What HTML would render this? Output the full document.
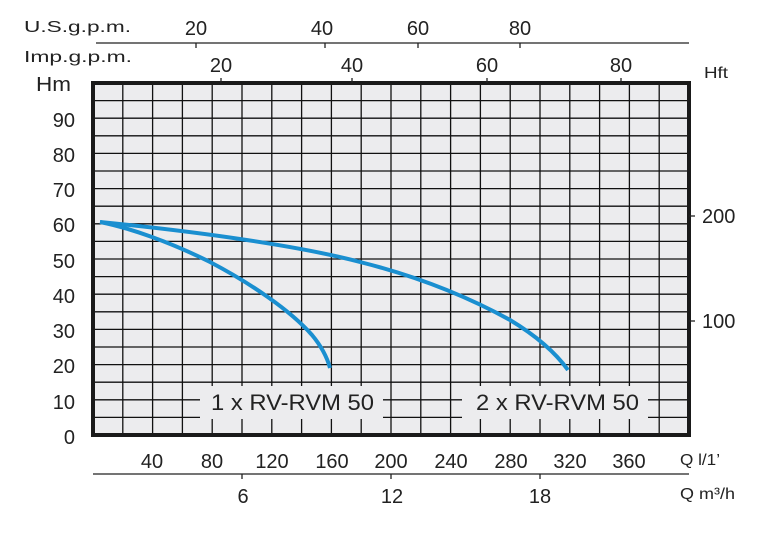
<!DOCTYPE html>
<html><head><meta charset="utf-8"><style>body{margin:0;background:#fff}svg{display:block}</style></head><body>
<svg width="780" height="533" viewBox="0 0 780 533" xmlns="http://www.w3.org/2000/svg" font-family="Liberation Sans, DejaVu Sans, sans-serif" fill="#222">
<rect x="93" y="83" width="596" height="352" fill="#ececee"/>
<g stroke="#111" stroke-width="1.3">
<line x1="122.8" y1="83" x2="122.8" y2="435"/><line x1="152.6" y1="83" x2="152.6" y2="435"/><line x1="182.4" y1="83" x2="182.4" y2="435"/><line x1="212.2" y1="83" x2="212.2" y2="435"/><line x1="242" y1="83" x2="242" y2="435"/><line x1="271.8" y1="83" x2="271.8" y2="435"/><line x1="301.6" y1="83" x2="301.6" y2="435"/><line x1="331.4" y1="83" x2="331.4" y2="435"/><line x1="361.2" y1="83" x2="361.2" y2="435"/><line x1="391" y1="83" x2="391" y2="435"/><line x1="420.8" y1="83" x2="420.8" y2="435"/><line x1="450.6" y1="83" x2="450.6" y2="435"/><line x1="480.4" y1="83" x2="480.4" y2="435"/><line x1="510.2" y1="83" x2="510.2" y2="435"/><line x1="540" y1="83" x2="540" y2="435"/><line x1="569.8" y1="83" x2="569.8" y2="435"/><line x1="599.6" y1="83" x2="599.6" y2="435"/><line x1="629.4" y1="83" x2="629.4" y2="435"/><line x1="659.2" y1="83" x2="659.2" y2="435"/>
<line x1="93" y1="417.4" x2="689" y2="417.4"/><line x1="93" y1="399.8" x2="689" y2="399.8"/><line x1="93" y1="382.2" x2="689" y2="382.2"/><line x1="93" y1="364.6" x2="689" y2="364.6"/><line x1="93" y1="347" x2="689" y2="347"/><line x1="93" y1="329.4" x2="689" y2="329.4"/><line x1="93" y1="311.8" x2="689" y2="311.8"/><line x1="93" y1="294.2" x2="689" y2="294.2"/><line x1="93" y1="276.6" x2="689" y2="276.6"/><line x1="93" y1="259" x2="689" y2="259"/><line x1="93" y1="241.4" x2="689" y2="241.4"/><line x1="93" y1="223.8" x2="689" y2="223.8"/><line x1="93" y1="206.2" x2="689" y2="206.2"/><line x1="93" y1="188.6" x2="689" y2="188.6"/><line x1="93" y1="171" x2="689" y2="171"/><line x1="93" y1="153.4" x2="689" y2="153.4"/><line x1="93" y1="135.8" x2="689" y2="135.8"/><line x1="93" y1="118.2" x2="689" y2="118.2"/><line x1="93" y1="100.6" x2="689" y2="100.6"/>
</g>
<rect x="200" y="386" width="183" height="33" fill="#ececee"/>
<rect x="462" y="386" width="186" height="33" fill="#ececee"/>
<g fill="none" stroke="#1a8fd0" stroke-width="4" stroke-linecap="butt">
<path d="M100,222 C130,228 170,242 210,262 C250,283 290,310 312,335 C322,347 327,357 330,368"/>
<path d="M100,222 C200,232 300,246 360,262 C420,277 470,298 510,320 C535,335 555,352 568,370"/>
</g>
<rect x="93" y="83" width="596" height="352" fill="none" stroke="#1a1a1a" stroke-width="4"/>
<g font-size="22">
<text x="211" y="410" textLength="163" lengthAdjust="spacingAndGlyphs">1 x RV-RVM 50</text>
<text x="476" y="410" textLength="163" lengthAdjust="spacingAndGlyphs">2 x RV-RVM 50</text>
</g>
<g font-size="20" text-anchor="end">
<text x="75" y="127">90</text><text x="75" y="162">80</text><text x="75" y="197">70</text><text x="75" y="232">60</text><text x="75" y="268">50</text><text x="75" y="303">40</text><text x="75" y="338">30</text><text x="75" y="373">20</text><text x="75" y="409">10</text><text x="75" y="444">0</text>
</g>
<text x="36" y="91" font-size="20" textLength="35" lengthAdjust="spacingAndGlyphs">Hm</text>
<text x="704" y="78" font-size="16" textLength="24" lengthAdjust="spacingAndGlyphs">Hft</text>
<g stroke="#222" stroke-width="1.3">
<line x1="689" y1="216" x2="695" y2="216"/><line x1="689" y1="321" x2="695" y2="321"/>
<line x1="96" y1="43" x2="689" y2="43"/>
<line x1="196" y1="43" x2="196" y2="48"/><line x1="325" y1="43" x2="325" y2="48"/><line x1="418" y1="43" x2="418" y2="48"/><line x1="520" y1="43" x2="520" y2="48"/>
<line x1="221" y1="78" x2="221" y2="83"/><line x1="352" y1="78" x2="352" y2="83"/><line x1="487" y1="78" x2="487" y2="83"/><line x1="621" y1="78" x2="621" y2="83"/>
<line x1="93" y1="474" x2="689" y2="474"/>
<line x1="242" y1="474" x2="242" y2="479"/><line x1="391" y1="474" x2="391" y2="479"/><line x1="540" y1="474" x2="540" y2="479"/>
</g>
<g font-size="20">
<text x="702" y="223">200</text><text x="702" y="328">100</text>
</g>
<g font-size="16">
<text x="24" y="32" textLength="107" lengthAdjust="spacingAndGlyphs">U.S.g.p.m.</text><text x="24" y="62" textLength="108" lengthAdjust="spacingAndGlyphs">Imp.g.p.m.</text>
<text x="680" y="465" textLength="40" lengthAdjust="spacingAndGlyphs">Q l/1’</text><text x="680" y="499" textLength="55" lengthAdjust="spacingAndGlyphs">Q m³/h</text>
</g>
<g font-size="20" text-anchor="middle">
<text x="196" y="35">20</text><text x="322" y="35">40</text><text x="418" y="35">60</text><text x="520" y="35">80</text>
<text x="221" y="72">20</text><text x="352" y="72">40</text><text x="487" y="72">60</text><text x="621" y="72">80</text>
<text x="152" y="468">40</text><text x="212" y="468">80</text><text x="272" y="468">120</text><text x="332" y="468">160</text><text x="391" y="468">200</text><text x="451" y="468">240</text><text x="511" y="468">280</text><text x="570" y="468">320</text><text x="629" y="468">360</text>
<text x="243" y="503">6</text><text x="392" y="503">12</text><text x="540" y="503">18</text>
</g>
</svg>
</body></html>
